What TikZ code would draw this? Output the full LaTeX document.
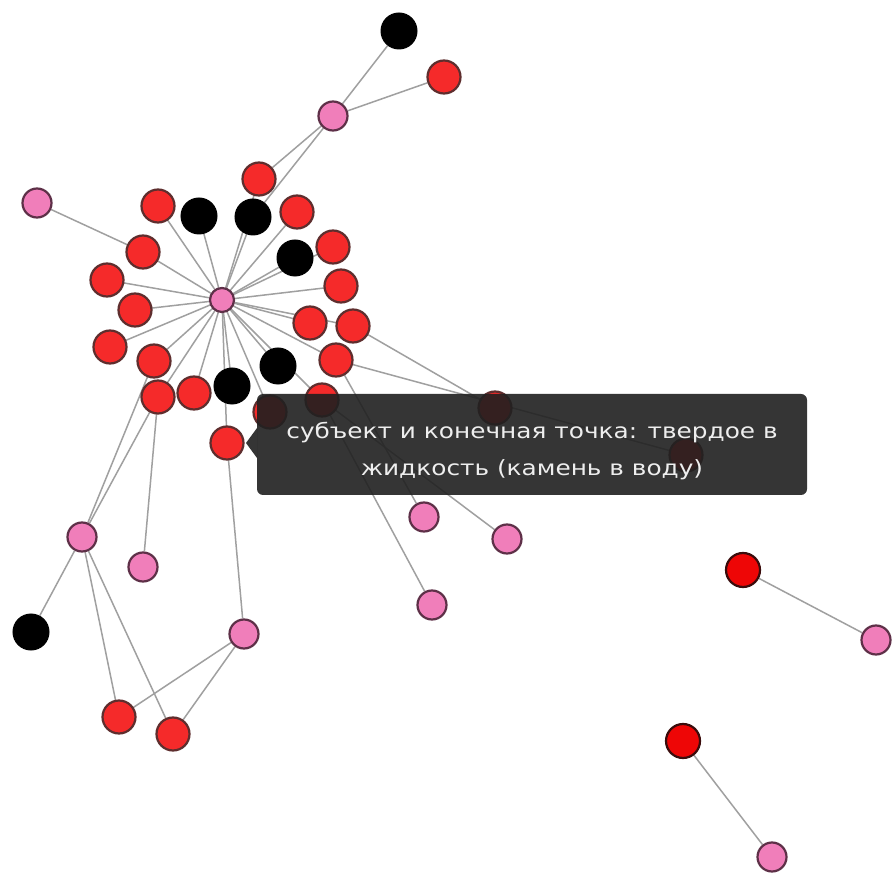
\documentclass[tikz,border=0pt]{standalone}
\usepackage{fontspec}
\setmainfont{DejaVu Sans}
\usetikzlibrary{backgrounds}
\begin{document}
\begin{tikzpicture}[x=1pt,y=-1pt,
  rednode/.style={circle,draw=redborder,line width=2.2pt,fill=redfill,minimum size=33pt,inner sep=0pt},
  brightred/.style={circle,draw=darkborder,line width=2.2pt,fill=brightfill,minimum size=34pt,inner sep=0pt},
  blacknode/.style={circle,draw=black,line width=1pt,fill=black,minimum size=36pt,inner sep=0pt},
  pinknode/.style={circle,draw=pinkborder,line width=2.2pt,fill=pinkfill,minimum size=29pt,inner sep=0pt},
  hubnode/.style={circle,draw=pinkborder,line width=2.2pt,fill=pinkfill,minimum size=24pt,inner sep=0pt},
  edge/.style={draw=edgegray,line width=1.5pt},
  tipbox/.style={fill=tipgray,fill opacity=0.9,draw=none},
  tiplabel/.style={text=tiptext,font=\fontsize{21}{37}\selectfont,align=center,inner sep=0pt}
]
\definecolor{redfill}{HTML}{F52A2A}
\definecolor{redborder}{HTML}{5E2E2E}
\definecolor{brightfill}{HTML}{EE0606}
\definecolor{darkborder}{HTML}{3A0C0C}
\definecolor{pinkfill}{HTML}{F07EBA}
\definecolor{pinkborder}{HTML}{5E3048}
\definecolor{edgegray}{HTML}{A0A0A0}
\definecolor{tipgray}{HTML}{202020}
\definecolor{tiptext}{HTML}{EEEEEE}

\useasboundingbox (0,0) rectangle (892,874);

% nodes
\node[hubnode] (hub) at (222,300) {};
\node[rednode] (r1) at (259,179) {};
\node[rednode] (r2) at (158,206) {};
\node[blacknode] (b1) at (199,216) {};
\node[blacknode] (b2) at (253,217) {};
\node[rednode] (r3) at (297,212) {};
\node[rednode] (r4) at (333,247) {};
\node[blacknode] (b3) at (295,258) {};
\node[rednode] (r5) at (341,286) {};
\node[rednode] (r6) at (143,252) {};
\node[rednode] (r7) at (107,280) {};
\node[rednode] (r8) at (135,310) {};
\node[rednode] (r9) at (310,323) {};
\node[rednode] (r10) at (353,326) {};
\node[rednode] (r11) at (110,347) {};
\node[rednode] (r12) at (154,361) {};
\node[rednode] (r13) at (336,360) {};
\node[blacknode] (b4) at (278,366) {};
\node[rednode] (r14) at (158,397) {};
\node[rednode] (r15) at (194,393) {};
\node[blacknode] (b5) at (232,386) {};
\node[rednode] (r16) at (270,412) {};
\node[rednode] (r17) at (322,400) {};
\node[rednode] (r18) at (227,443) {};
\node[rednode] (r19) at (495,408) {};
\node[rednode] (r20) at (686,455) {};

\node[pinknode] (p1) at (37,203) {};
\node[pinknode] (p2) at (333,116) {};
\node[blacknode] (bk1) at (399,31) {};
\node[rednode] (rr1) at (444,77) {};
\node[pinknode] (p3) at (82,537) {};
\node[blacknode] (bk2) at (31,632) {};
\node[pinknode] (p4) at (143,567) {};
\node[pinknode] (p5) at (244,634) {};
\node[rednode] (rr2) at (119,717) {};
\node[rednode] (rr3) at (173,734) {};
\node[pinknode] (p6) at (424,517) {};
\node[pinknode] (p7) at (507,539) {};
\node[pinknode] (p8) at (432,605) {};
\node[brightred] (rr4) at (743,570) {};
\node[pinknode] (p9) at (876,640) {};
\node[brightred] (rr5) at (683,741) {};
\node[pinknode] (p10) at (772,857) {};

% edges
\begin{scope}[on background layer]
  \fill[white] (0,0) rectangle (892,874);
  \foreach \n in {r1,r2,r3,r4,r5,r6,r7,r8,r9,r10,r11,r12,r13,r14,r15,r16,r17,r18,b1,b2,b3,b4,b5}
    \draw[edge] (hub.center) -- (\n.center);
  \draw[edge] (r10.center) -- (r19.center);
  \draw[edge] (r13.center) -- (r20.center);
  \draw[edge] (p1) -- (r6.center);
  \draw[edge] (p2) -- (r1.center);
  \draw[edge] (p2) -- (b2.center);
  \draw[edge] (p2) -- (bk1);
  \draw[edge] (p2) -- (rr1);
  \draw[edge] (p3) -- (r12.center);
  \draw[edge] (p3) -- (r14.center);
  \draw[edge] (p3) -- (bk2);
  \draw[edge] (p3) -- (rr2);
  \draw[edge] (p3) -- (rr3);
  \draw[edge] (p4) -- (r14.center);
  \draw[edge] (p5) -- (r18.center);
  \draw[edge] (p5) -- (rr2);
  \draw[edge] (p5) -- (rr3);
  \draw[edge] (p6) -- (r13.center);
  \draw[edge] (p7) -- (r17.center);
  \draw[edge] (p8) -- (r17.center);
  \draw[edge] (rr4) -- (p9);
  \draw[edge] (rr5) -- (p10);
\end{scope}

% tooltip
\coordinate (tipa) at (257,428);
\coordinate (tipb) at (246,443);
\coordinate (tipc) at (257,458);
\path[tipbox] [rounded corners=6pt] (257,394) rectangle (807,495);
\path[tipbox] (tipa) -- (tipb) -- (tipc) -- cycle;
\node[tiplabel] (tiptext) at (532,451) {\scalebox{1.18}[1]{субъект и конечная точка: твердое в}\\\scalebox{1.18}[1]{жидкость (камень в воду)}};
\end{tikzpicture}
\end{document}
